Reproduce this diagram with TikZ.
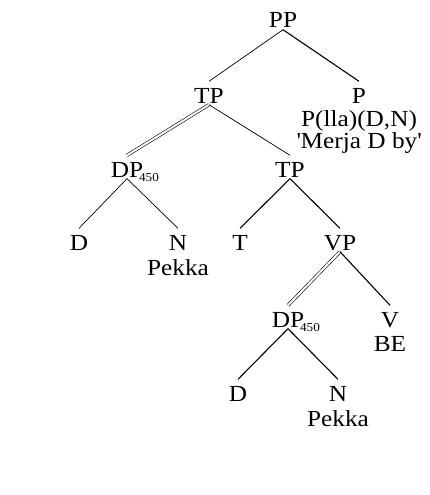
\documentclass[tikz,border=0pt]{standalone}
\usepackage{fontspec}
\setmainfont[FakeStretch=1.1]{Liberation Serif}
\usetikzlibrary{positioning}

\begin{document}
\begin{tikzpicture}[x=1pt, y=1pt, on grid,
  cat/.style = {font=\fontsize{23}{27}\selectfont, text height=20pt, text depth=0pt, inner sep=1.5pt},
  note/.style = {cat},
  sub/.style = {font=\fontsize{12}{14}\selectfont, inner sep=0pt, anchor=base west},
  thinedge/.style = {line width=0.7pt},
  edge/.style = {line width=1.1pt},
  dbl/.style = {double, double distance=2pt, line width=0.6pt}]

\useasboundingbox (0,0) rectangle (430,-495);

\node[cat] (PP) at (283,-18) {PP};
\node[cat] (TP) [below left=75 and 74 of PP] {TP};
\node[cat] (P) [below right=75 and 76 of PP] {P};
\node[note] (Plla) [below=23 of P] {P(lla)(D,N)};
\node[note] (Merja) [below=22 of Plla] {\textquotesingle Merja D by\textquotesingle};
\node[cat] (DP) [below left=74 and 82 of TP] {DP};
\node[sub] (DPsub) at ([xshift=-6pt, yshift=-4pt]DP.base east) {450};
\node[cat] (TPb) [below right=74 and 81 of TP] {TP};
\node[cat] (D) [below left=73 and 48 of DP] {D};
\node[cat] (N) [below right=73 and 51 of DP] {N};
\node[note] (Pekka) [below=25 of N] {Pekka};
\node[cat] (T) [below left=73 and 50 of TPb] {T};
\node[cat] (VP) [below right=73 and 50 of TPb] {VP};
\node[cat] (DPb) [below left=77 and 52 of VP] {DP};
\node[sub] (DPbsub) at ([xshift=-6pt, yshift=-4pt]DPb.base east) {450};
\node[cat] (V) [below right=77 and 50 of VP] {V};
\node[note] (BE) [below=24 of V] {BE};
\node[cat] (Db) [below left=74 and 50 of DPb] {D};
\node[cat] (Nb) [below right=74 and 50 of DPb] {N};
\node[note] (Pekkab) [below=25 of Nb] {Pekka};

\draw[thinedge] (PP.south) -- (TP.north);
\draw[edge] (PP.south) -- (P.north);
\draw[dbl] (TP.south) -- (DP.north);
\draw[thinedge] (TP.south) -- (TPb.north);
\draw[thinedge] (DP.south) -- (D.north);
\draw[thinedge] (DP.south) -- (N.north);
\draw[edge] (TPb.south) -- (T.north);
\draw[edge] (TPb.south) -- (VP.north);
\draw[dbl] (VP.south) -- (DPb.north);
\draw[edge] (VP.south) -- (V.north);
\draw[edge] (DPb.south) -- (Db.north);
\draw[edge] (DPb.south) -- (Nb.north);

\end{tikzpicture}
\end{document}
